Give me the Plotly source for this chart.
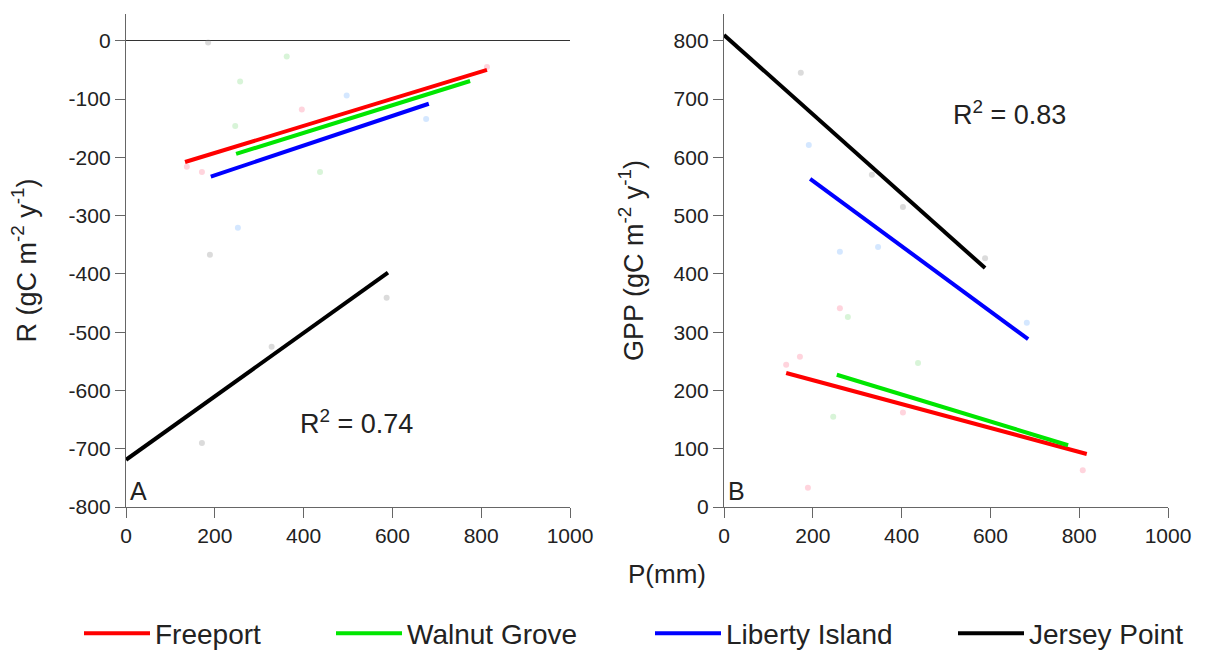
import plotly.graph_objects as go

W, H = 1208, 656
sites = ["Freeport", "Walnut Grove", "Liberty Island", "Jersey Point"]
colors = ["#ff0000", "#00e600", "#0000ff", "#000000"]
pt_colors = ["#ff6f8f", "#7fd97f", "#6fb0ff", "#888888"]

# Regression lines: [x_start, x_end], [y_start, y_end]
a_line_x = {"Freeport": [133, 813], "Walnut Grove": [248, 775], "Liberty Island": [191, 682], "Jersey Point": [0, 590]}
a_line_y = {"Freeport": [-208, -50], "Walnut Grove": [-194, -69], "Liberty Island": [-233, -108], "Jersey Point": [-719, -398]}
b_line_x = {"Freeport": [140, 817], "Walnut Grove": [254, 775], "Liberty Island": [194, 685], "Jersey Point": [0, 588]}
b_line_y = {"Freeport": [230, 91], "Walnut Grove": [227, 106], "Liberty Island": [563, 288], "Jersey Point": [810, 410]}

# Faint observed points
a_pts_x = {"Freeport": [137, 171, 396, 813], "Walnut Grove": [362, 257, 246, 437],
           "Liberty Island": [497, 676, 252], "Jersey Point": [185, 189, 587, 328, 171]}
a_pts_y = {"Freeport": [-216, -225, -118, -45], "Walnut Grove": [-27, -70, -146, -225],
           "Liberty Island": [-94, -134, -321], "Jersey Point": [-3, -367, -441, -525, -690]}
b_pts_x = {"Freeport": [261, 171, 140, 403, 808, 189], "Walnut Grove": [279, 437, 246],
           "Liberty Island": [191, 261, 347, 682], "Jersey Point": [173, 333, 403, 588]}
b_pts_y = {"Freeport": [341, 258, 244, 162, 63, 33], "Walnut Grove": [326, 247, 155],
           "Liberty Island": [621, 438, 446, 316], "Jersey Point": [745, 570, 515, 427]}

x_ticks = [0, 200, 400, 600, 800, 1000]
x_tick_labels = ["0", "200", "400", "600", "800", "1000"]
a_y_ticks = [0, -100, -200, -300, -400, -500, -600, -700, -800]
a_y_tick_labels = ["0", "-100", "-200", "-300", "-400", "-500", "-600", "-700", "-800"]
b_y_ticks = [0, 100, 200, 300, 400, 500, 600, 700, 800]
b_y_tick_labels = ["0", "100", "200", "300", "400", "500", "600", "700", "800"]

legend_ids = ["legend", "legend2", "legend3", "legend4"]
legend_left_px = [79, 331, 650, 953]

fig = go.Figure()
for i, s in enumerate(sites):
    fig.add_trace(go.Scatter(x=a_pts_x[s], y=a_pts_y[s], mode="markers", xaxis="x", yaxis="y",
                             marker=dict(color=pt_colors[i], size=6, opacity=0.3), showlegend=False, hoverinfo="skip"))
    fig.add_trace(go.Scatter(x=b_pts_x[s], y=b_pts_y[s], mode="markers", xaxis="x2", yaxis="y2",
                             marker=dict(color=pt_colors[i], size=6, opacity=0.3), showlegend=False, hoverinfo="skip"))
for i, s in enumerate(sites):
    fig.add_trace(go.Scatter(x=a_line_x[s], y=a_line_y[s], mode="lines", xaxis="x", yaxis="y",
                             line=dict(color=colors[i], width=4), name=s, legendgroup=s, showlegend=True,
                             legend=legend_ids[i]))
    fig.add_trace(go.Scatter(x=b_line_x[s], y=b_line_y[s], mode="lines", xaxis="x2", yaxis="y2",
                             line=dict(color=colors[i], width=4), name=s, legendgroup=s, showlegend=False))

font = dict(family="Liberation Sans, Arial, sans-serif", color="#222")
ydom = [1 - 507 / H, 1 - 14 / H]
axis_common = dict(showgrid=False, showline=True, linecolor="#666", linewidth=1.3, ticks="outside",
                   ticklen=10, tickcolor="#666", tickwidth=1.3, tickfont=dict(size=21, **font),
                   automargin=False)

legends = {}
for lid, lx in zip(legend_ids, legend_left_px):
    legends[lid] = dict(orientation="h", x=lx / W, xanchor="left", y=-0.004, yanchor="bottom",
                        font=dict(size=28, **font), itemwidth=66, bgcolor="rgba(0,0,0,0)")

fig.update_layout(
    width=W, height=H, autosize=False, margin=dict(l=0, r=0, t=0, b=0, autoexpand=False),
    paper_bgcolor="white", plot_bgcolor="white", font=font,
    xaxis=dict(domain=[126 / W, 570 / W], range=[0, 1000], tickvals=x_ticks, ticktext=x_tick_labels,
               anchor="y", zeroline=False, **axis_common),
    yaxis=dict(domain=ydom, range=[-800, 46], tickvals=a_y_ticks, ticktext=a_y_tick_labels, anchor="x",
               zeroline=True, zerolinecolor="#333", zerolinewidth=1.3,
               title=dict(text="R (gC m<sup>-2</sup> y<sup>-1</sup>)", font=dict(size=27, **font), standoff=24),
               **axis_common),
    xaxis2=dict(domain=[724 / W, 1168 / W], range=[0, 1000], tickvals=x_ticks, ticktext=x_tick_labels,
                anchor="y2", zeroline=False, **axis_common),
    yaxis2=dict(domain=ydom, range=[0, 846], tickvals=b_y_ticks, ticktext=b_y_tick_labels, anchor="x2",
                zeroline=False,
                title=dict(text="GPP (gC m<sup>-2</sup> y<sup>-1</sup>)", font=dict(size=27, **font), standoff=22),
                **axis_common),
    annotations=[
        dict(text="R<sup>2</sup> = 0.74", x=520, y=-654, xref="x", yref="y", showarrow=False, font=dict(size=27, **font)),
        dict(text="R<sup>2</sup> = 0.83", x=644, y=676, xref="x2", yref="y2", showarrow=False, font=dict(size=27, **font)),
        dict(text="A", x=0.005, y=0.0, xref="x domain", yref="y domain", xanchor="left", yanchor="bottom",
             showarrow=False, font=dict(size=25, **font)),
        dict(text="B", x=0.005, y=0.0, xref="x2 domain", yref="y2 domain", xanchor="left", yanchor="bottom",
             showarrow=False, font=dict(size=25, **font)),
        dict(text="P(mm)", x=667 / W, y=1 - 591 / H, xref="paper", yref="paper", showarrow=False,
             font=dict(size=26, **font)),
    ],
    **legends,
)

fig.write_html("out.html")
